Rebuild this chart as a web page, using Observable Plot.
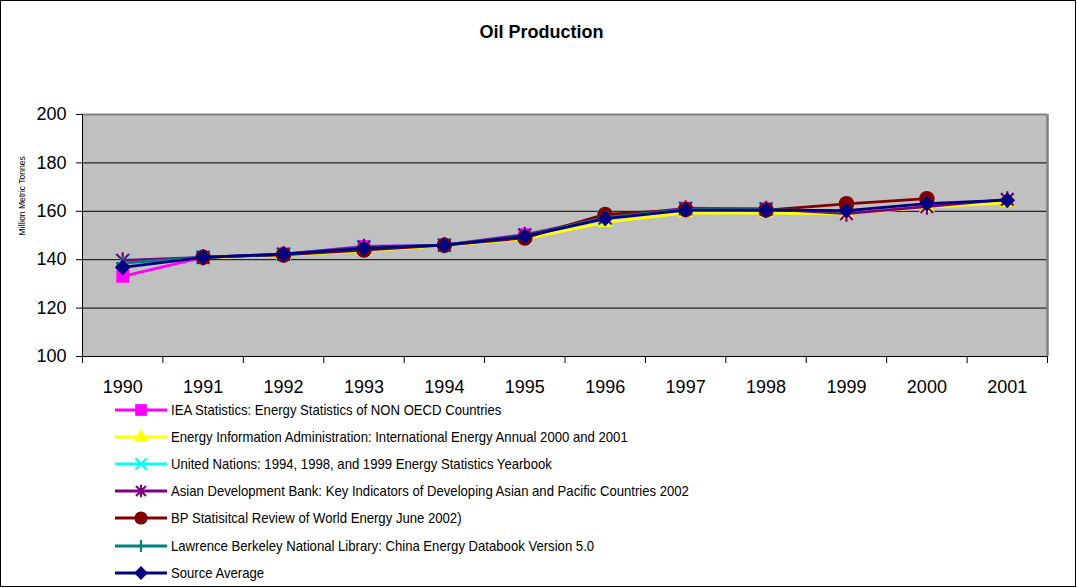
<!DOCTYPE html>
<html>
<head>
<meta charset="utf-8">
<script src="https://cdn.jsdelivr.net/npm/d3@7"></script>
<script src="https://cdn.jsdelivr.net/npm/@observablehq/plot@0.6"></script>
<style>
  body { margin: 0; background: #fff; font-family: "Liberation Sans", Arial, sans-serif; }
  #chart { position: relative; width: 1077px; height: 588px; overflow: hidden; }
  #frame { position: absolute; left: 0; top: 0; width: 1076px; height: 587px; box-sizing: border-box; border: 1px solid #000; pointer-events: none; }
  #title { position: absolute; left: 0; top: 0; width: 1077px; height: 64px; display: flex; align-items: center; justify-content: center; padding-left: 6px; box-sizing: border-box; font-size: 18px; font-weight: bold; color: #000; }
  #plot { position: absolute; left: 0; top: 70px; }
  #legend { position: absolute; left: 115px; top: 396px; }
  .row { display: flex; align-items: center; height: 27.2px; }
  .row span { display: inline-block; margin-left: 4px; font-size: 14.5px; color: #000; white-space: nowrap; transform: scaleX(0.905); transform-origin: left center; }
</style>
</head>
<body>
<div id="chart">
  <div id="title">Oil Production</div>
  <div id="plot"></div>
  <div id="legend"></div>
  <div id="frame"></div>
</div>
<script>
// ---- Data ----
const years = [1990, 1991, 1992, 1993, 1994, 1995, 1996, 1997, 1998, 1999, 2000, 2001];
const yTicks = [100, 120, 140, 160, 180, 200];

const ieaValues  = [133.1, 141.0, 142.3, 145.5, 146.0, 150.4, 157.4, 161.3, 161.0, null, null, null];
const eiaValues  = [null, 140.8, 141.8, 143.6, 145.8, 148.6, 155.4, 159.4, 159.3, 158.9, 161.6, 163.6];
const unValues   = [139.5, 141.0, 142.3, 145.3, 146.0, 150.3, 157.3, 161.2, 161.0, null, null, null];
const adbValues  = [139.7, 141.0, 142.3, 145.3, 146.0, 150.3, 157.3, 161.2, 161.0, 159.0, 161.9, 164.9];
const bpValues   = [null, 141.0, 142.0, 144.0, 146.0, 149.0, 158.7, 160.7, 160.5, 163.1, 165.2, null];
const lbnlValues = [138.6, 141.0, 142.2, 144.8, 146.0, 149.7, 157.5, 160.8, 160.7, 160.0, null, null];
const avgValues  = [136.8, 141.0, 142.3, 144.7, 146.0, 149.6, 157.0, 160.5, 160.5, 160.3, 163.2, 164.6];

const seriesNames = [
  "IEA Statistics: Energy Statistics of NON OECD Countries",
  "Energy Information Administration: International Energy Annual 2000 and 2001",
  "United Nations: 1994, 1998, and 1999 Energy Statistics Yearbook",
  "Asian Development Bank: Key Indicators of Developing Asian and Pacific Countries 2002",
  "BP Statisitcal Review of World Energy June 2002)",
  "Lawrence Berkeley National Library: China Energy Databook Version 5.0",
  "Source Average"
];
const seriesValues = [ieaValues, eiaValues, unValues, adbValues, bpValues, lbnlValues, avgValues];

// Excel-style "star" marker: an X with a vertical bar
const symbolStar = {
  draw(context, size) {
    const r = Math.sqrt(size) * 0.62;
    const q = r * 0.78;
    context.moveTo(-q, -q); context.lineTo(q, q);
    context.moveTo(q, -q); context.lineTo(-q, q);
    context.moveTo(0, -r); context.lineTo(0, r);
  }
};

// ---- Styles ----
const styles = [
  {color: "#ff00ff", symbol: "square",   filled: true,  r: 7.2, lr: 6.6},
  {color: "#ffff00", symbol: "triangle", filled: true,  r: 5.8, lr: 5.2},
  {color: "#00ffff", symbol: "times",    filled: false, r: 6.6, lr: 5.2},
  {color: "#800080", symbol: "star",     filled: false, r: 7.4, lr: 5.8},
  {color: "#800000", symbol: "circle",   filled: true,  r: 7.8, lr: 6.6},
  {color: "#008080", symbol: "plus",     filled: false, r: 4.4, lr: 4.0},
  {color: "#000080", symbol: "diamond2", filled: true,  r: 7.0, lr: 6.2}
];
const symbolMap = {
  square: d3.symbolSquare, triangle: d3.symbolTriangle, times: d3.symbolTimes,
  star: symbolStar, circle: d3.symbolCircle, plus: d3.symbolPlus, diamond2: d3.symbolDiamond2
};

const series = seriesNames.map((name, k) =>
  years.map((year, i) => ({year, value: seriesValues[k][i], name}))
       .filter(d => d.value != null)
);

const boundaries = years.map(y => y - 0.5).concat([years[years.length - 1] + 0.5]);
const xMin = boundaries[0], xMax = boundaries[boundaries.length - 1];

const marks = [
  Plot.frame({fill: "#c0c0c0", stroke: null}),
  Plot.ruleY(yTicks.slice(1, -1), {stroke: "#000", strokeWidth: 1}),
  Plot.ruleY([yTicks[yTicks.length - 1]], {stroke: "#808080", strokeWidth: 2}),
  Plot.ruleX([xMax], {stroke: "#808080", strokeWidth: 2.5}),
  Plot.ruleX([xMin], {stroke: "#000", strokeWidth: 1}),
  Plot.ruleY([yTicks[0]], {stroke: "#000", strokeWidth: 1}),
  Plot.axisY(yTicks, {tickSize: 6, tickPadding: 10, fontSize: 18, label: null, stroke: "#000"}),
  Plot.axisX(boundaries, {tickSize: 7, tickFormat: () => "", label: null, stroke: "#000"}),
  Plot.axisX(years, {tickSize: 0, tickPadding: 24, fontSize: 18, tickFormat: d => String(d), label: null}),
  Plot.text(["Million Metric Tonnes"], {frameAnchor: "left", dx: -60, rotate: -90, fontSize: 8.5, fill: "#000"})
];

series.forEach((data, k) => {
  const s = styles[k];
  const sym = symbolMap[s.symbol];
  marks.push(Plot.line(data, {x: "year", y: "value", stroke: s.color, strokeWidth: 2.8, curve: "linear"}));
  marks.push(Plot.dot(data, s.filled
    ? {x: "year", y: "value", symbol: sym, r: s.r, fill: s.color, stroke: null}
    : {x: "year", y: "value", symbol: sym, r: s.r, stroke: s.color, strokeWidth: 2.2, fill: "none"}));
});

const chart = Plot.plot({
  width: 1077,
  height: 330,
  marginTop: 44,
  marginBottom: 44,
  marginLeft: 82,
  marginRight: 30,
  x: {type: "linear", domain: [xMin, xMax], axis: null},
  y: {domain: [yTicks[0], yTicks[yTicks.length - 1]], axis: null},
  style: {fontFamily: "'Liberation Sans', Arial, sans-serif", fontSize: "18px", background: "transparent", color: "#000"},
  marks
});
document.getElementById("plot").appendChild(chart);

// ---- Legend ----
const legend = d3.select("#legend");
seriesNames.forEach((name, k) => {
  const s = styles[k];
  const row = legend.append("div").attr("class", "row");
  const svg = row.append("svg").attr("width", 52).attr("height", 18);
  svg.append("line").attr("x1", 0).attr("x2", 52).attr("y1", 9).attr("y2", 9)
     .attr("stroke", s.color).attr("stroke-width", 2.8);
  const path = svg.append("path")
     .attr("transform", "translate(26,9)")
     .attr("d", d3.symbol(symbolMap[s.symbol], Math.PI * s.lr * s.lr)());
  if (s.filled) path.attr("fill", s.color);
  else path.attr("fill", "none").attr("stroke", s.color).attr("stroke-width", 2.2);
  row.append("span").text(name);
});
</script>
</body>
</html>
